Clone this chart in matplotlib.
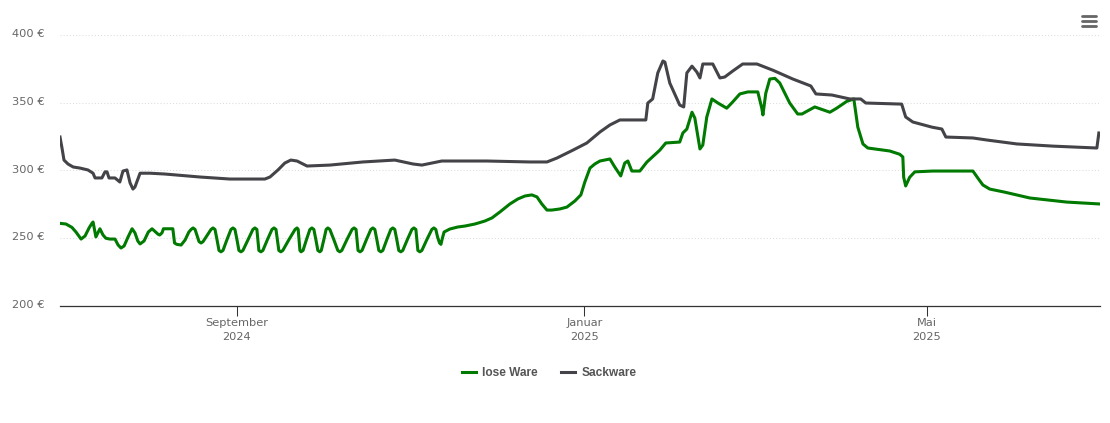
import matplotlib
matplotlib.use("Agg")
import matplotlib.pyplot as plt
from matplotlib.lines import Line2D
from matplotlib.transforms import ScaledTranslation

# days since 1 Jul 2024, price in euro
lose_days = [0, 2.1, 4.2, 5.6, 7.4, 8.8, 10.2, 11.2, 11.6, 12.6, 14, 15.1, 16.1, 17.5, 19.3, 20.4, 21.4, 22.5, 23.9,
             25.3, 26.3, 27.3, 28.1, 29.5, 31, 32.3, 33.6, 34.4, 35, 35.8, 36.3, 39.6, 40.2, 41, 42.5, 43.9, 45.2, 46,
             46.7, 47.4, 48.1, 48.8, 49.5, 50.2, 51.6, 53,
             53.7, 54.4, 55.1, 55.8, 56.5, 57.2, 58.6, 60,
             60.7, 61.4, 62.1, 62.8, 63.5, 64.2, 66, 67.7,
             68.4, 69.1, 69.45, 69.8, 70.5, 71.2, 72.8, 74.4,
             75.1, 75.8, 76.3, 76.8, 77.5, 78.2, 80.35, 82.5,
             83.2, 83.6, 83.9, 84.2, 84.6, 85.3, 86.5, 87.7,
             88.4, 89.1, 89.8, 90.5, 91.2, 91.7, 92.6, 93.4,
             94, 94.7, 96.1, 97.5, 98.2, 98.9, 100.7, 102.5,
             103.2, 103.9, 104.25, 104.6, 105.3, 106, 107.55, 109.1,
             109.8, 110.5, 111.2, 111.9, 112.6, 113.3, 114.7, 116.1,
             116.8, 117.5, 118.2, 118.9, 119.6, 120.3, 121.9, 123.5,
             124.2, 124.9, 125.25, 125.6, 126.3, 127, 128.75, 130.5,
             131.2, 131.9, 132.5, 133.2, 133.7, 134.2, 134.8, 136.8, 139.6, 142.1, 145.6, 149.1, 151.6, 154.4, 157.9,
             160.7, 163.2, 165.6, 167.4, 169.1, 170.9, 172.6, 175.4, 177.9, 180.7, 182.8, 184.2, 186, 187.7, 189.5,
             193, 194.7, 196.8, 198.2, 199.3, 200.7, 203.5, 206, 210.5, 212.6, 217.5, 218.6, 220, 221.8, 222.8, 224.6,
             225.6, 227, 228.8, 230.9, 234, 236.1, 238.6, 241.4, 244.9, 246.3, 246.7, 247.7, 249.1, 250.9, 252.6,
             256.1, 258.9, 260.4, 264.9, 270.2, 272.6, 276.1, 278.6, 280, 281.8, 283.5, 291.2, 294.7, 295.8, 296.1,
             296.8, 298.2, 300, 306.3, 320.4, 322.1, 323.9, 326.3, 331.6, 340.4, 353.3, 364.9]
lose_ware = [261, 260.5, 258, 254.6, 249.4, 251.7, 257.6, 261, 262, 251, 257, 252.4, 250, 249.4, 249.4, 245, 242.8, 244.3, 251,
             257, 254, 248, 245.8, 248, 254.6, 257, 254.5, 253, 252.4, 254, 257, 257, 246.5, 245.5, 245, 248.7, 254.5, 256.5,
             257.6, 256.5, 252, 247.5, 246.5, 247.5, 252, 256.5,
             257.6, 256.5, 249, 241, 240, 241, 249, 256.5,
             257.6, 256.5, 249, 241, 240, 241, 249, 256.5,
             257.6, 256.5, 249, 241, 240, 241, 249, 256.5,
             257.6, 256.5, 249, 241, 240, 241, 249, 256.5,
             257.6, 256.5, 249, 241, 240, 241, 249, 256.5,
             257.6, 256.5, 249, 241, 240, 241, 249, 256.5,
             257.6, 256.5, 249, 241, 240, 241, 249, 256.5,
             257.6, 256.5, 249, 241, 240, 241, 249, 256.5,
             257.6, 256.5, 249, 241, 240, 241, 249, 256.5,
             257.6, 256.5, 249, 241, 240, 241, 249, 256.5,
             257.6, 256.5, 249, 241, 240, 241, 249, 256.5,
             257.6, 256.5, 251, 246.5, 245.5, 250, 254.6, 256.8, 258.3, 259, 260.5, 262.7, 265, 269.4, 275.3,
             279, 281.2, 282, 280.5, 275.3, 270.8, 270.8, 271.6, 273, 277.5, 282, 291.5, 301.8, 304.8, 307,
             308.5, 302.6, 296, 305.5, 307, 299.6, 299.6, 306.3, 315, 320.3, 321, 327.7, 330.6, 343, 338.7, 315.9,
             318.8, 339.5, 352.8, 349.8, 346, 350.6, 356.5, 358, 358, 346, 341, 357, 367.5, 368, 364.6,
             349.8, 341.7, 341.7, 346.9, 343, 346, 351, 352.8, 332, 319.6, 316.6, 314.4, 312, 310, 295,
             288.6, 295, 299, 299.6, 299.6, 294.5, 289.3, 286.3, 284, 279.7, 276.7, 275.3]

sack_days = [0, 0.7, 1.4, 2.8, 4.6, 7, 9.8, 11.6, 12.3, 14.7, 15.8, 16.5, 17.2, 19.3, 21, 22.1, 23.5, 24.6, 25.6, 26.3,
             28.1, 31.6, 36.8, 49.1, 59.6, 71.9, 73.7, 76.5, 78.9, 81, 83.2, 86.7, 94.7, 106.3, 117.5, 123.9, 127, 134,
             149.8, 164.9, 170.9, 174.4, 180, 184.9, 189.5, 193, 196.5, 201, 205.6, 206.3, 208, 209.8, 211.6, 212.3,
             214, 217.5, 218.9, 220, 221.8, 223.5, 224.6, 225.6, 229.1, 231.6, 233.3, 236.1, 239.6, 244.6, 250.2,
             257.2, 263.5, 265.3, 270.9, 277.2, 281, 282.8, 295.4, 296.8, 299.3, 306, 309.5, 310.9, 320.4, 325.3,
             335.8, 348.4, 363.9, 364.6]
sackware = [324.7, 316.6, 307.7, 304.8, 302.6, 301.8, 300.4, 298, 294.5, 294.5, 299, 299, 294.5, 294.5, 291.5, 299.6,
            300.4, 290.8, 286.3, 287.8, 298, 298, 297.4, 295.2, 293.7, 293.7, 295.2, 300.4, 305.5, 307.7, 307, 303.3,
            304, 306.3, 307.7, 304.8, 304, 307, 307, 306.3, 306.3, 309.2, 315, 320.3, 328.4, 333.6, 337.3, 337.3,
            337.3, 349.8, 352.8, 372, 380.8, 380, 364.6, 348.3, 346.9, 372, 377, 372.7, 368.3, 378.6, 378.6, 368.3,
            369, 373.4, 378.6, 378.6, 374, 367.5, 362.4, 356.5, 355.7, 352.8, 352.8, 349.8, 349, 339.5, 335.8, 332,
            330.6, 324.7, 324, 322.5, 319.6, 318, 316.6, 327.7]

y_ticks = [200, 250, 300, 350, 400]
x_ticks = [62, 184, 304.3]
x_labels = ["September\n2024", "Januar\n2025", "Mai\n2025"]

W, H = 1110, 423
GREEN = "#007a00"
DARK = "#434348"
GREY = "#666666"

plt.rcParams["font.family"] = ["DejaVu Sans"]

fig = plt.figure(figsize=(W / 100, H / 100), dpi=100)
ax = fig.add_axes([60 / W, 1 - 306 / H, 1040 / W, 271 / H])

ax.plot(lose_days, lose_ware, color=GREEN, lw=2.2, solid_joinstyle="round", label="lose Ware", zorder=3)
ax.plot(sack_days, sackware, color=DARK, lw=2.2, solid_joinstyle="round", label="Sackware", zorder=3)

ax.set_xlim(0, 365)
ax.set_ylim(200, 400)
ax.set_yticks(y_ticks)
ax.set_yticklabels([f"{v} €" for v in y_ticks], fontsize=8.2, color=GREY, va="center")
ax.set_xticks(x_ticks)
ax.set_xticklabels(x_labels, fontsize=8.2, color=GREY, linespacing=1.5)
ax.tick_params(axis="y", length=0, pad=11)
ax.tick_params(axis="x", length=7.2, width=0.75, color="#333333", pad=1.5)
ax.grid(axis="y", color="#dddddd", lw=0.75, ls=(0, (1, 2)))
ax.set_axisbelow(True)

# y labels sit a pixel above their grid line
nudge = ScaledTranslation(0, 1 / 100, fig.dpi_scale_trans)
for label in ax.get_yticklabels():
    label.set_transform(label.get_transform() + nudge)

for side in ["top", "left", "right"]:
    ax.spines[side].set_visible(False)
ax.spines["bottom"].set_color("#333333")
ax.spines["bottom"].set_linewidth(0.9)

# legend below the plot
ax.legend(loc="center", bbox_to_anchor=(549 / W, 1 - 373 / H), bbox_transform=fig.transFigure, ncol=2,
          frameon=False, handlelength=1.18, handletextpad=0.5, columnspacing=2.0,
          prop={"family": "Liberation Sans", "weight": "bold", "size": 8.6}, labelcolor="#555555")

# export menu icon
for y in [16, 21, 26]:
    fig.add_artist(Line2D([1082 / W, 1096 / W], [1 - y / H, 1 - y / H], color=GREY, lw=2, solid_capstyle="round"))

fig.savefig("out.png", dpi=100)
